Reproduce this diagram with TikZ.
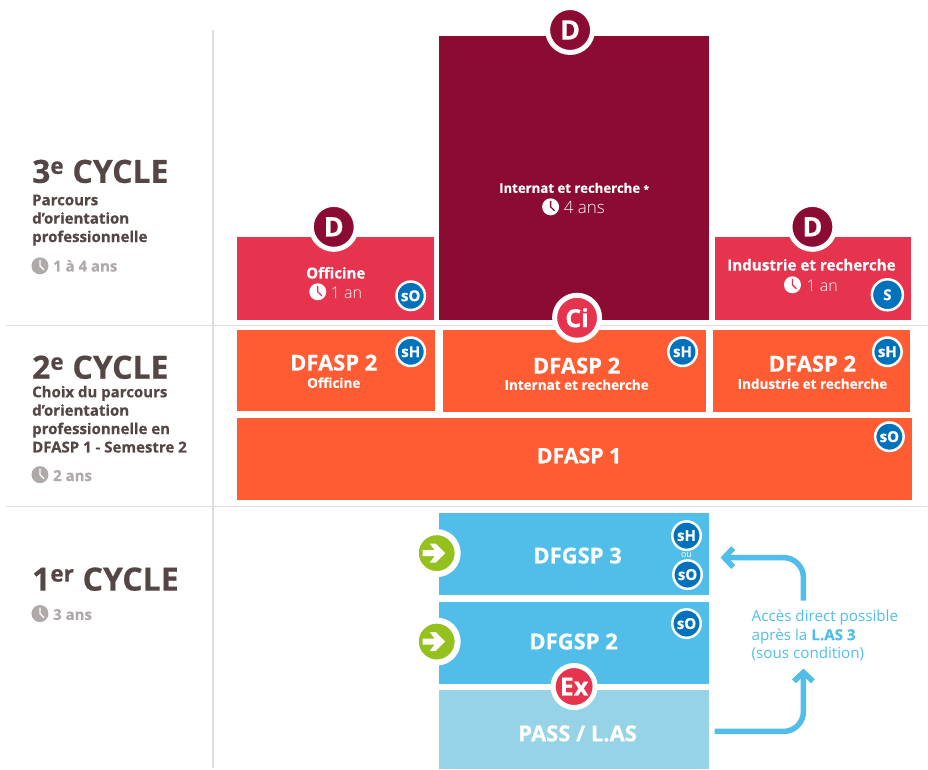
\documentclass[tikz,border=0pt]{standalone}
\usepackage{fontspec}
\setmainfont{Open Sans}[BoldFeatures={FakeBold=0.5}]
\newfontfamily\lightfont{Open Sans Light}
\usetikzlibrary{arrows.meta,positioning,calc}

\definecolor{wine}{HTML}{8C0B33}
\definecolor{rose}{HTML}{E6344F}
\definecolor{flame}{HTML}{FF5C33}
\definecolor{sky}{HTML}{50BEE8}
\definecolor{pale}{HTML}{97D3E6}
\definecolor{royal}{HTML}{0072BC}
\definecolor{leaf}{HTML}{95C11F}
\definecolor{bark}{HTML}{544645}
\definecolor{ash}{HTML}{AFAAA9}
\definecolor{rule}{HTML}{DDDDDD}

\begin{document}
\begin{tikzpicture}[x=1pt,y=-1pt,
	box/.style={rectangle, anchor=north west, inner sep=0pt},
	bigbadge/.style={circle, draw=white, line width=5pt, minimum size=45pt, inner sep=0pt, text=white, font=\bfseries\fontsize{27}{27}\selectfont},
	badge/.style={circle, draw=white, line width=2.5pt, fill=royal, minimum size=28.5pt, inner sep=0pt, text=white, font=\bfseries\fontsize{15}{15}\selectfont},
	cycle/.style={anchor=base west, inner sep=0pt, text=bark, font=\bfseries\fontsize{32}{32}\selectfont},
	sub/.style={anchor=north west, inner sep=0pt, align=left, text=bark, font=\bfseries\fontsize{15}{18.4}\selectfont},
	dur/.style={anchor=west, inner sep=0pt, text=ash, font=\bfseries\fontsize{15}{15}\selectfont},
	big/.style={inner sep=0pt, text=white, font=\bfseries\fontsize{22}{22}\selectfont},
	small/.style={inner sep=0pt, text=white, font=\bfseries\fontsize{13.5}{13.5}\selectfont},
	time/.style={anchor=west, inner sep=0pt, text=white, font=\lightfont\fontsize{16}{16}\selectfont},
	link/.style={draw=sky, line width=5.5pt, rounded corners=20pt, -{Straight Barb[length=9pt,width=19pt,line width=5.5pt]}},
	pics/clockpic/.style n args={2}{code={
		\fill [#1] (0,0) circle (8.5);
		\draw [#2, line width=1.3pt] (0,-6) -- (0,0) -- (4,4);
	}},
	pics/arrowpic/.style={code={
		\fill [white] (-14,-3) -- ++(12,0) -- ++(-5,-6.5) -- ++(6,0) -- ++(9.5,9.5) -- ++(-9.5,9.5) -- ++(-6,0) -- ++(5,-6.5) -- ++(-12,0) -- cycle;
	}},
	]
	% grid
	\draw [rule, line width=1.3pt] (213,30) -- (213,769);
	\draw [rule, line width=1.3pt] (6,325.5) -- (928,325.5);
	\draw [rule, line width=1.3pt] (6,507) -- (928,507);

	% 3e cycle
	\node (interne) at (439,36) [box, fill=wine, minimum width=270pt, minimum height=284pt] {};
	\node (officine) at (237,237) [box, fill=rose, minimum width=197pt, minimum height=83pt] {};
	\node (industrie) at (715,237) [box, fill=rose, minimum width=196pt, minimum height=83pt] {};

	% 2e cycle
	\node (dfasp2a) at (237,330) [box, fill=flame, minimum width=198pt, minimum height=81pt] {};
	\node (dfasp2b) at (443,330) [box, fill=flame, minimum width=263pt, minimum height=82pt] {};
	\node (dfasp2c) at (713,330) [box, fill=flame, minimum width=197pt, minimum height=82pt] {};
	\node (dfasp1) at (237,418) [box, fill=flame, minimum width=675pt, minimum height=82.5pt] {};

	% 1er cycle
	\node (dfgsp3) at (439,513) [box, fill=sky, minimum width=270pt, minimum height=82pt] {};
	\node (dfgsp2) at (439,602) [box, fill=sky, minimum width=270pt, minimum height=82pt] {};
	\node (pass) at (439,690) [box, fill=pale, minimum width=270pt, minimum height=79pt] {};

	% left column
	\node (c3) at (32,183) [cycle] {3\textsuperscript{e} CYCLE};
	\node (c3sub) at (32,194.5) [sub] {Parcours\\d’orientation\\professionnelle};
	\pic at (40,266) {clockpic={ash}{white}};
	\node (c3dur) at (53,266) [dur] {1 à 4 ans};

	\node (c2) at (32,379) [cycle] {2\textsuperscript{e} CYCLE};
	\node (c2sub) at (32,386) [sub] {Choix du parcours\\d’orientation\\professionnelle en\\DFASP 1 - Semestre 2};
	\pic at (40,475) {clockpic={ash}{white}};
	\node (c2dur) at (53,476) [dur] {2 ans};

	\node (c1) at (32,591) [cycle] {1\textsuperscript{er} CYCLE};
	\pic at (40,614) {clockpic={ash}{white}};
	\node (c1dur) at (53,615) [dur] {3 ans};

	% labels in the boxes
	\node (tint) at (574.5,188) [small, font=\bfseries\fontsize{13.2}{13.2}\selectfont] {Internat et recherche {\fontsize{10}{10}\selectfont *}};
	\pic at (551,207) {clockpic={white}{wine}};
	\node (tintd) at (564,208) [time, font=\lightfont\fontsize{17}{17}\selectfont] {4 ans};
	\node (toff) at (336,273) [small, font=\bfseries\fontsize{15}{15}\selectfont] {Officine};
	\pic at (318,292) {clockpic={white}{rose}};
	\node (toffd) at (331,293) [time] {1 an};
	\node (tind) at (812,265) [small, font=\bfseries\fontsize{15.2}{15.2}\selectfont] {Industrie et recherche};
	\pic at (793,285) {clockpic={white}{rose}};
	\node (tindd) at (807,286) [time] {1 an};

	\node (l2a) at (334,363) [big] {DFASP 2};
	\node (l2as) at (334,383) [small] {Officine};
	\node (l2b) at (577,366) [big] {DFASP 2};
	\node (l2bs) at (577,385) [small] {Internat et recherche};
	\node (l2c) at (813,364) [big] {DFASP 2};
	\node (l2cs) at (813,384) [small] {Industrie et recherche};
	\node (l1) at (579.5,456) [big, font=\bfseries\fontsize{21.3}{21.3}\selectfont] {DFASP 1};
	\node (l3) at (578,556) [big] {DFGSP 3};
	\node (l4) at (574,642) [big] {DFGSP 2};
	\node (l5) at (578,734) [big] {PASS / L.AS};

	% round marks
	\node (d1) at (570.5,30) [bigbadge, fill=wine] {D};
	\node (d2) at (334,227) [bigbadge, fill=wine] {D};
	\node (d3) at (813,227) [bigbadge, fill=wine] {D};
	\node (ci) at (577.5,318) [bigbadge, fill=rose, font=\bfseries\fontsize{25}{25}\selectfont] {Ci};
	\node (ex) at (574.5,687) [bigbadge, fill=rose, font=\bfseries\fontsize{25}{25}\selectfont, minimum size=42pt] {Ex};

	\node (b1) at (411,296) [badge] {sO};
	\node (b2) at (888,295) [badge, minimum size=31pt] {S};
	\node (b3) at (411,352) [badge] {sH};
	\node (b4) at (683,352) [badge] {sH};
	\node (b5) at (888,352) [badge] {sH};
	\node (b6) at (890,437) [badge] {sO};
	\node (b7) at (687,536) [badge] {sH};
	\node (ou) at (687,555) [inner sep=0pt, text=white, font=\fontsize{9}{9}\selectfont] {ou};
	\node (b8) at (688,575) [badge] {sO};
	\node (b9) at (687,624) [badge] {sO};

	\node (g1) at (437,553.5) [bigbadge, line width=6pt, minimum size=42pt, fill=leaf] {};
	\pic at (g1.center) {arrowpic};
	\node (g2) at (437,642) [bigbadge, line width=6pt, minimum size=42pt, fill=leaf] {};
	\pic at (g2.center) {arrowpic};

	% direct access
	\node (acces) at (752,610.5) [anchor=north west, inner sep=0pt, align=left, text=sky, font=\fontsize{15.2}{18.3}\selectfont] {Accès direct possible\\après la \textbf{L.AS 3}\\(sous condition)};
	\coordinate (from1) at (715,732);
	\coordinate (tip1) at (804,669);
	\coordinate (from2) at (804,601);
	\coordinate (tip2) at (721,558);
	\draw [link] (from1) -| (tip1);
	\draw [link] (from2) |- (tip2);

	\useasboundingbox (0,0) rectangle (928,769);
\end{tikzpicture}
\end{document}
